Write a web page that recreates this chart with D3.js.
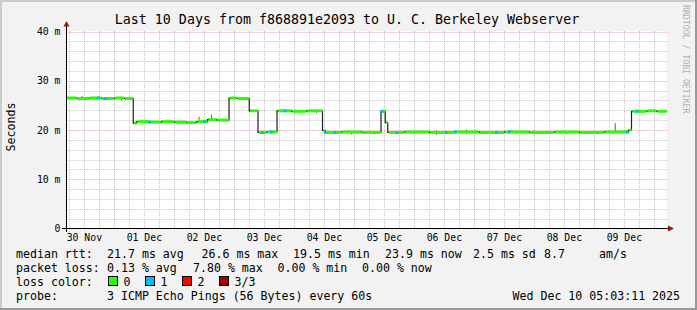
<!DOCTYPE html>
<html><head><meta charset="utf-8">
<script src="https://cdn.jsdelivr.net/npm/d3@7"></script>
<style>
html,body{margin:0;padding:0;background:#f2f2f2;}
svg{display:block;font-family:"DejaVu Sans Mono",monospace;}
</style></head>
<body>
<svg id="c" width="697" height="310"></svg>
<script>
// ---------- data ----------
const title = "Last 10 Days from f868891e2093 to U. C. Berkeley Webserver";
const startTime = Date.UTC(2025, 10, 30, 5, 3, 11);   // Nov 30 05:03:11
const endTime   = Date.UTC(2025, 11, 10, 5, 3, 11);   // Dec 10 05:03:11
// median RTT breakpoints: hours after start, value in ms (step-after)
const medianHours = [0, 4, 9, 14, 19, 23, 26.7, 28, 33, 38, 43, 48, 52, 56.4, 60, 65, 68, 73.1, 76.6, 80, 84.2, 90, 96, 102.4, 103.5, 110, 118, 125.8, 127.5, 128.5, 135, 145, 155, 165, 175, 185, 195, 205, 215, 224.8, 226, 232, 236];
const medianMs    = [26.5, 26.4, 26.5, 26.4, 26.5, 26.4, 21.4, 21.7, 21.6, 21.7, 21.6, 21.5, 21.7, 22.1, 22.0, 26.5, 26.4, 23.9, 19.5, 19.6, 23.9, 23.8, 23.9, 19.9, 19.5, 19.6, 19.5, 23.8, 21.5, 19.5, 19.6, 19.5, 19.6, 19.5, 19.6, 19.5, 19.6, 19.5, 19.6, 20.0, 23.8, 23.9, 23.8];
// hours with 1 of 3 pings lost
const lossHours = [12.7, 15.5, 33.2, 55.2, 78.4, 81.9, 87.5, 103.5, 107.5, 126.2, 132.2, 151.9, 155.5, 171.9, 177.1, 224.2, 228.2];
// smoke spikes: hour, low ms, high ms
const smokeHours = [6.2, 22, 38, 53, 58, 100, 114, 148, 160, 187, 200, 219.5, 230];
const smokeLow   = [26.1, 26.0, 21.3, 21.4, 21.8, 23.4, 19.1, 19.0, 19.2, 19.1, 19.2, 19.4, 23.5];
const smokeHigh  = [26.9, 26.6, 21.9, 22.7, 23.1, 24.0, 19.8, 19.9, 20.1, 19.9, 19.8, 21.4, 24.0];
const yTicks = [0, 10, 20, 30, 40];
const lossLegend = [["0", "#26ff00"], ["1", "#00b8ff"], ["2", "#ff0000"], ["3/3", "#a10000"]];
const statsRtt  = [["median rtt:", 16], ["21.7 ms avg", 107], ["26.6 ms max", 201.5], ["19.5 ms min", 293], ["23.9 ms now", 385], ["2.5 ms sd", 473], ["8.7", 544], ["am/s", 599]];
const statsLoss = [["packet loss:", 16], ["0.13 % avg", 107], ["7.80 % max", 193], ["0.00 % min", 277.5], ["0.00 % now", 362]];
const probeText = "3 ICMP Echo Pings (56 Bytes) every 60s";
const stampText = "Wed Dec 10 05:03:11 2025";

// ---------- drawing ----------
const svg = d3.select("#c");
const W = 697, H = 310;
const HOUR = 3600e3;
const x = d3.scaleUtc().domain([new Date(startTime), new Date(endTime)]).range([66.5, 666.5]);
const y = d3.scaleLinear().domain([0, 40]).range([228.5, 31.5]);
const tAt = h => new Date(startTime + h * HOUR);

// frame shading
svg.append("rect").attr("width", W).attr("height", H).attr("fill", "#f2f2f2");
svg.append("path").attr("d", `M0,${H} V0 H${W}`).attr("fill", "none").attr("stroke", "#cbcbcb").attr("stroke-width", 4);
svg.append("path").attr("d", `M0,${H} H${W} V0`).attr("fill", "none").attr("stroke", "#999999").attr("stroke-width", 4);

// canvas
svg.append("rect").attr("x", 66.5).attr("y", 31).attr("width", 600).attr("height", 197.5).attr("fill", "#fff");

// grid
const g = svg.append("g");
const minorY = d3.range(0, 41, 2).filter(v => v % 10 !== 0);
g.selectAll(".hy").data(minorY).join("line")
  .attr("x1", 66.5).attr("x2", 668).attr("y1", d => Math.round(y(d)) + 0.5).attr("y2", d => Math.round(y(d)) + 0.5)
  .attr("stroke", "#c4c4c4").attr("stroke-dasharray", "1,1");
const minorT = d3.utcHour.every(6).range(new Date(startTime), new Date(endTime)).filter(d => d.getUTCHours() !== 0);
g.selectAll(".vx").data(minorT).join("line")
  .attr("x1", d => Math.round(x(d)) + 0.5).attr("x2", d => Math.round(x(d)) + 0.5).attr("y1", 31).attr("y2", 228)
  .attr("stroke", "#c4c4c4").attr("stroke-dasharray", "1,1");
g.selectAll(".my").data(yTicks.filter(v => v > 0)).join("line")
  .attr("x1", 66.5).attr("x2", 668).attr("y1", d => Math.round(y(d)) + 0.5).attr("y2", d => Math.round(y(d)) + 0.5)
  .attr("stroke", "#eca4a4").attr("stroke-dasharray", "1,1");
const majorT = d3.utcDay.range(new Date(startTime), new Date(endTime));
g.selectAll(".mx").data(majorT).join("line")
  .attr("x1", d => Math.round(x(d)) + 0.5).attr("x2", d => Math.round(x(d)) + 0.5).attr("y1", 31).attr("y2", 228)
  .attr("stroke", "#eca4a4").attr("stroke-dasharray", "1,1");

// smoke
svg.append("g").selectAll("line").data(smokeHours).join("line")
  .attr("x1", d => x(tAt(d))).attr("x2", d => x(tAt(d)))
  .attr("y1", (d, i) => y(smokeLow[i])).attr("y2", (d, i) => y(smokeHigh[i]))
  .attr("stroke", "#666").attr("stroke-width", 1);

// median black step line
const pts = medianHours.map((h, i) => [h, medianMs[i]]);
pts.push([240, medianMs[medianMs.length - 1]]);
svg.append("path").datum(pts)
  .attr("d", d3.line().x(d => x(tAt(d[0]))).y(d => y(d[1])).curve(d3.curveStepAfter))
  .attr("fill", "none").attr("stroke", "#202020").attr("stroke-width", 1.2);

// green segments (loss 0)
svg.append("g").selectAll("line").data(medianHours).join("line")
  .attr("x1", (d, i) => x(tAt(d)) + (i > 0 ? 1 : 0))
  .attr("x2", (d, i) => x(tAt(i + 1 < medianHours.length ? medianHours[i + 1] : 240)))
  .attr("y1", (d, i) => y(medianMs[i])).attr("y2", (d, i) => y(medianMs[i]))
  .attr("stroke", lossLegend[0][1]).attr("stroke-width", 3);

// blue segments (loss 1)
const medAt = h => { let v = medianMs[0]; medianHours.forEach((mh, i) => { if (mh <= h) v = medianMs[i]; }); return v; };
svg.append("g").selectAll("line").data(lossHours).join("line")
  .attr("x1", d => x(tAt(d - 0.5))).attr("x2", d => x(tAt(d + 0.5)))
  .attr("y1", d => y(medAt(d))).attr("y2", d => y(medAt(d)))
  .attr("stroke", lossLegend[1][1]).attr("stroke-width", 3);

// axes (labels via d3 axes)
const noons = d3.utcDay.range(new Date(Date.UTC(2025, 10, 30)), new Date(Date.UTC(2025, 11, 10))).map(d => d3.utcHour.offset(d, 12));
const xAx = svg.append("g").attr("transform", "translate(0,228)")
  .call(d3.axisBottom(x).tickValues(noons).tickFormat(d3.utcFormat("%d %b")).tickSize(0));
xAx.select(".domain").remove();
xAx.selectAll("text").attr("y", 13).attr("dy", 0).attr("font-size", "9.8px").attr("font-family", "DejaVu Sans Mono").attr("fill", "#000");
const yAx = svg.append("g").attr("transform", "translate(66.5,0)")
  .call(d3.axisLeft(y).tickValues(yTicks).tickFormat(d => d === 0 ? "0" : d + " m").tickSize(0).tickPadding(6));
yAx.select(".domain").remove();
yAx.selectAll("text").attr("font-size", "9.8px").attr("font-family", "DejaVu Sans Mono").attr("fill", "#000");

// axis lines + arrows
svg.append("line").attr("x1", 62).attr("x2", 669).attr("y1", 228.5).attr("y2", 228.5).attr("stroke", "#000");
svg.append("line").attr("x1", 66.5).attr("x2", 66.5).attr("y1", 232).attr("y2", 25).attr("stroke", "#000");
svg.append("path").attr("d", "M668,225.5 L674,228.5 L668,231.5 Z").attr("fill", "#9b1414");
svg.append("path").attr("d", "M63.5,26.5 L66.5,21 L69.5,26.5 Z").attr("fill", "#9b1414");

// title
svg.append("text").attr("x", 347).attr("y", 23.5).attr("text-anchor", "middle").attr("font-size", "13.3px").text(title);
// y label
svg.append("text").attr("transform", "translate(14.5,127) rotate(-90)").attr("text-anchor", "middle").attr("font-size", "11.6px").text("Seconds");
// watermark
svg.append("text").attr("transform", "translate(683,5) rotate(90)").attr("font-size", "8.2px").attr("fill", "#b0b0b0").text("RRDTOOL / TOBI OETIKER");

// legend
const fs = "11.6px";
const L = svg.append("g").attr("font-size", fs);
L.selectAll(".r1").data(statsRtt).join("text").attr("x", d => d[1]).attr("y", 258).text(d => d[0]);
L.selectAll(".r2").data(statsLoss).join("text").attr("x", d => d[1]).attr("y", 272).text(d => d[0]);
L.append("text").attr("x", 16).attr("y", 286).text("loss color:");
const boxX = [108.5, 145.5, 182.5, 219.5];
lossLegend.forEach((d, i) => {
  L.append("rect").attr("x", boxX[i]).attr("y", 276.5).attr("width", 9).attr("height", 9).attr("fill", d[1]).attr("stroke", "#000");
  L.append("text").attr("x", boxX[i] + 15).attr("y", 286).text(d[0]);
});
L.append("text").attr("x", 16).attr("y", 300).text("probe:");
L.append("text").attr("x", 107).attr("y", 300).text(probeText);
L.append("text").attr("x", 512.5).attr("y", 300).text(stampText);
</script>
</body></html>
